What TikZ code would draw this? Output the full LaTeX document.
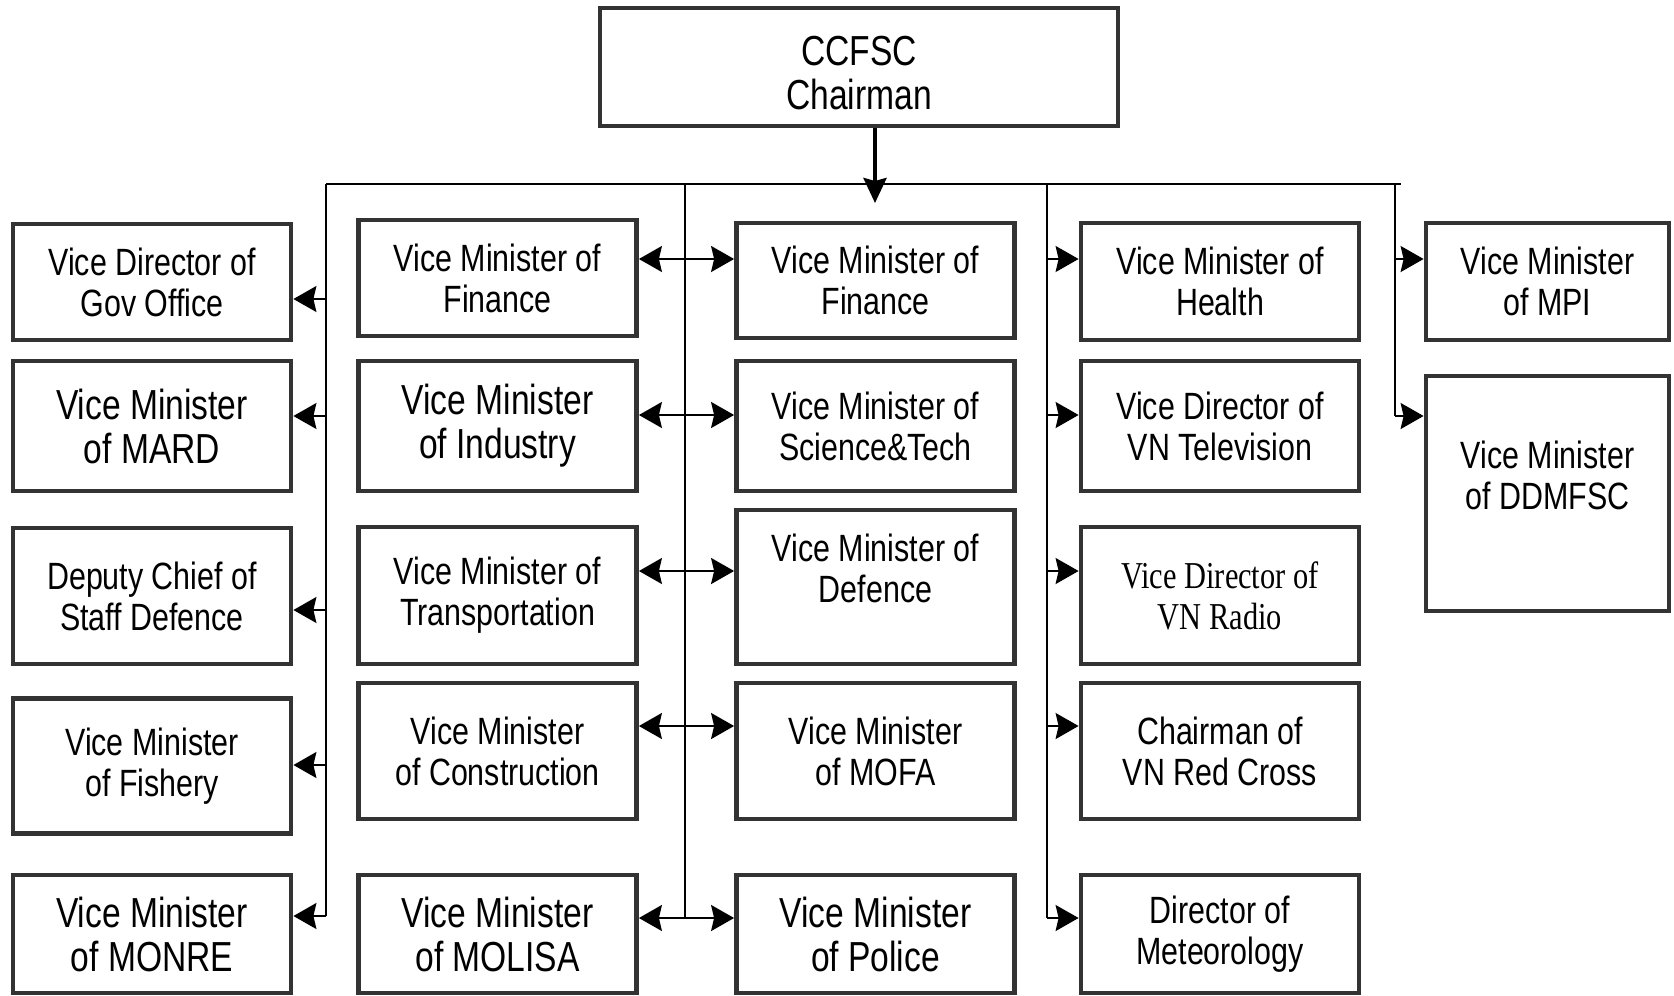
\documentclass[tikz,border=0pt]{standalone}
\usepackage{fontspec}
\setmainfont{Liberation Sans}[FakeStretch=0.8]
\newfontfamily\radiofont{Liberation Serif}[FakeStretch=0.8]
\usetikzlibrary{arrows.meta,positioning}

\tikzset{
  box/.style={draw=black!80, line width=2.4pt, align=center, inner sep=0pt,
    font=\fontsize{19}{20.5}\selectfont},
  bigtext/.style={font=\fontsize{21}{22}\selectfont},
  wide/.style={minimum width=139pt},
  head/.tip={Stealth[length=11.5pt,width=13pt,inset=1.5pt]},
  tip/.style={-head, line width=1pt},
  both/.style={head-head, line width=1pt},
}

\begin{document}
\begin{tikzpicture}[x=0.5pt,y=-0.5pt]
  \useasboundingbox (0,0) rectangle (1674,995);

  \draw (859,67) node[box,minimum width=259pt,minimum height=59pt] (ccfsc) {};
  \node at (859,73) [font=\fontsize{21}{22}\selectfont, align=center] (ccfsctext) {CCFSC\\Chairman};

  % left column
  \draw (152,282) node[box,wide,minimum height=58pt] (gov) {Vice Director of\\Gov Office};
  \draw (152,426) node[box,bigtext,wide,minimum height=65pt] (mard) {Vice Minister\\of MARD};
  \draw (152,596) node[box,wide,minimum height=68pt] (staff) {Deputy Chief of\\Staff Defence};
  \draw (152,766) node[box,wide,minimum height=67.5pt] (fishery) {Vice Minister\\of Fishery};
  \draw (152,934) node[box,bigtext,wide,minimum height=59pt] (monre) {Vice Minister\\of MONRE};

  % second column
  \draw (497.5,278) node[box,wide,minimum height=58pt] (finance) {Vice Minister of\\Finance};
  \draw (497.5,426) node[box,bigtext,wide,minimum height=65pt] (industry) {Vice Minister\\of Industry};
  \draw (497.5,595.5) node[box,wide,minimum height=68.5pt] (transport) {Vice Minister of\\Transportation};
  \draw (497.5,751) node[box,wide,minimum height=68pt] (construction) {Vice Minister\\of Construction};
  \draw (497.5,934) node[box,bigtext,wide,minimum height=59pt] (molisa) {Vice Minister\\of MOLISA};

  % third column
  \draw (875.5,280.5) node[box,wide,minimum height=57.5pt] (finance2) {Vice Minister of\\Finance};
  \draw (875.5,426) node[box,wide,minimum height=65pt] (scitech) {Vice Minister of\\Science\&Tech};
  \draw (875.5,587) node[box,wide,minimum height=77pt] (defence) {};
  \node at (875.5,568) [font=\fontsize{19}{20.5}\selectfont, align=center] (defencetext) {Vice Minister of\\Defence};
  \draw (875.5,751) node[box,wide,minimum height=68pt] (mofa) {Vice Minister\\of MOFA};
  \draw (875.5,934) node[box,bigtext,wide,minimum height=59pt] (police) {Vice Minister\\of Police};

  % fourth column
  \draw (1220,281.5) node[box,wide,minimum height=58.5pt] (health) {Vice Minister of\\Health};
  \draw (1220,426) node[box,wide,minimum height=65pt] (tv) {Vice Director of\\VN Television};
  \draw (1220,595.5) node[box,wide,minimum height=68.5pt,font=\radiofont\fontsize{19}{20.5}\selectfont] (radio) {Vice Director of\\VN Radio};
  \draw (1220,751) node[box,wide,minimum height=68pt] (redcross) {Chairman of\\VN Red Cross};
  \draw (1220,934) node[box,wide,minimum height=59pt] (meteo) {Director of\\Meteorology};

  % right column
  \draw (1547.5,281.5) node[box,minimum width=121.5pt,minimum height=58.5pt] (mpi) {Vice Minister\\of MPI};
  \draw (1547.5,493.5) node[box,minimum width=121.5pt,minimum height=117.5pt] (ddmfsc) {};
  \node at (1547.5,475) [font=\fontsize{19}{20.5}\selectfont, align=center] (ddmfsctext) {Vice Minister\\of DDMFSC};

  % bus and drops
  \coordinate (busL) at (326,184);
  \coordinate (busR) at (1401,184);
  \coordinate (drop) at (875,203);
  \draw[line width=1pt] (busL) -- (busR);
  \draw[-{Stealth[length=12.5pt,width=11.5pt,inset=1.5pt]}, line width=2pt] (ccfsc.south -| drop) -- (drop);

  \coordinate (a1) at (326,299);  \coordinate (a2) at (326,416);
  \coordinate (a3) at (326,610);  \coordinate (a4) at (326,765);
  \coordinate (a5) at (326,916);
  \coordinate (b0) at (685,184);
  \coordinate (b1) at (685,259);  \coordinate (b2) at (685,415);
  \coordinate (b3) at (685,571);  \coordinate (b4) at (685,726);
  \coordinate (b5) at (685,918);
  \coordinate (c0) at (1047,184);
  \coordinate (c1) at (1047,259); \coordinate (c2) at (1047,415);
  \coordinate (c3) at (1047,571); \coordinate (c4) at (1047,726);
  \coordinate (c5) at (1047,918);
  \coordinate (d0) at (1395,184);
  \coordinate (d1) at (1395,259); \coordinate (d2) at (1395,416);

  \draw[line width=1pt] (busL) -- (a5);
  \draw[line width=1pt] (b0) -- (b5);
  \draw[line width=1pt] (c0) -- (c5);
  \draw[line width=1pt] (d0) -- (d2);

  \draw[tip] (a1) -- (a1 -| gov.east);
  \draw[tip] (a2) -- (a2 -| mard.east);
  \draw[tip] (a3) -- (a3 -| staff.east);
  \draw[tip] (a4) -- (a4 -| fishery.east);
  \draw[tip] (a5) -- (a5 -| monre.east);

  \draw[both] (b1 -| finance.east) -- (b1 -| finance2.west);
  \draw[both] (b2 -| industry.east) -- (b2 -| scitech.west);
  \draw[both] (b3 -| transport.east) -- (b3 -| defence.west);
  \draw[both] (b4 -| construction.east) -- (b4 -| mofa.west);
  \draw[both] (b5 -| molisa.east) -- (b5 -| police.west);

  \draw[tip] (c1) -- (c1 -| health.west);
  \draw[tip] (c2) -- (c2 -| tv.west);
  \draw[tip] (c3) -- (c3 -| radio.west);
  \draw[tip] (c4) -- (c4 -| redcross.west);
  \draw[tip] (c5) -- (c5 -| meteo.west);

  \draw[tip] (d1) -- (d1 -| mpi.west);
  \draw[tip] (d2) -- (d2 -| ddmfsc.west);
\end{tikzpicture}
\end{document}
